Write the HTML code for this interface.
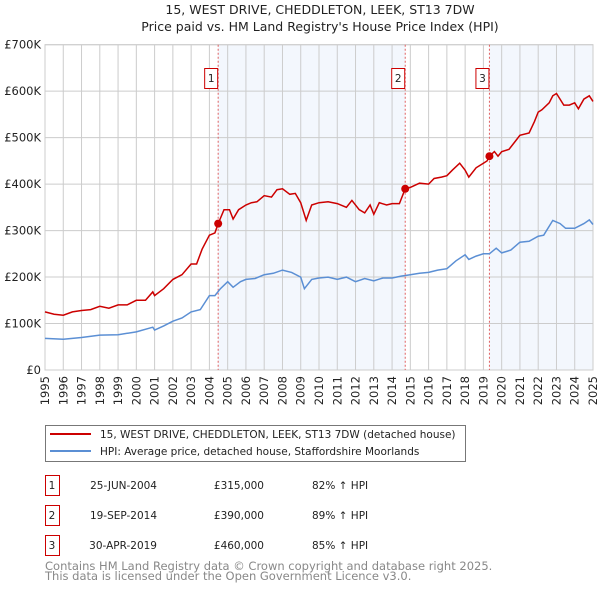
<!DOCTYPE html>
<html><head><meta charset="utf-8"><style>
body{margin:0;background:#fff;font-family:"DejaVu Sans","Liberation Sans",sans-serif;}
svg text{font-family:"DejaVu Sans","Liberation Sans",sans-serif;}
</style></head><body>
<svg id="chart" width="600" height="590" viewBox="0 0 600 590" xmlns="http://www.w3.org/2000/svg">
<text x="320" y="14" text-anchor="middle" font-size="12.5" fill="#222">15, WEST DRIVE, CHEDDLETON, LEEK, ST13 7DW</text>
<text x="320" y="31" text-anchor="middle" font-size="12.5" fill="#222">Price paid vs. HM Land Registry's House Price Index (HPI)</text>
<g id="plot"></g>
<g>
<rect x="45.5" y="425.5" width="420" height="36" fill="#fff" stroke="#777"/>
<line x1="50" y1="434" x2="91" y2="434" stroke="#cc0000" stroke-width="2"/>
<text x="100" y="438" font-size="10.5" fill="#222">15, WEST DRIVE, CHEDDLETON, LEEK, ST13 7DW (detached house)</text>
<line x1="50" y1="451" x2="91" y2="451" stroke="#5b8fd4" stroke-width="2"/>
<text x="100" y="455" font-size="10.5" fill="#222">HPI: Average price, detached house, Staffordshire Moorlands</text>
</g>
<g id="table" font-size="11" fill="#222"></g>
<text x="45" y="570" font-size="11.5" fill="#888">Contains HM Land Registry data © Crown copyright and database right 2025.</text>
<text x="45" y="580" font-size="11.5" fill="#888">This data is licensed under the Open Government Licence v3.0.</text>
</svg>
<script>
const redT=[1995,1995.5,1996,1996.5,1997,1997.5,1998,1998.5,1999,1999.5,2000,2000.5,2000.9,2001,2001.5,2002,2002.5,2003,2003.3,2003.6,2004,2004.3,2004.48,2004.8,2005.1,2005.3,2005.6,2006,2006.3,2006.6,2007,2007.4,2007.7,2008,2008.4,2008.7,2009,2009.3,2009.6,2010,2010.5,2011,2011.5,2011.8,2012.2,2012.5,2012.8,2013,2013.3,2013.7,2014,2014.4,2014.72,2015,2015.5,2016,2016.3,2016.7,2017,2017.3,2017.7,2018,2018.2,2018.6,2019,2019.2,2019.33,2019.6,2019.8,2020,2020.4,2020.8,2021,2021.5,2021.8,2022,2022.2,2022.6,2022.8,2023,2023.4,2023.7,2024,2024.2,2024.5,2024.8,2025];
const redV=[125,120,118,125,128,130,137,133,140,140,150,150,168,160,175,195,205,228,228,260,290,295,315,345,345,325,345,355,360,362,375,372,388,390,378,380,360,322,355,360,362,358,350,365,345,338,355,335,360,355,358,358,390,393,402,400,412,415,418,430,445,430,415,435,445,450,460,470,460,470,475,495,505,510,535,555,560,575,590,595,570,570,575,562,583,590,578];
const blueT=[1995,1996,1997,1998,1999,2000,2000.9,2001,2001.5,2002,2002.5,2003,2003.5,2004,2004.3,2004.6,2005,2005.3,2005.7,2006,2006.5,2007,2007.5,2008,2008.5,2009,2009.2,2009.6,2010,2010.5,2011,2011.5,2012,2012.5,2013,2013.5,2014,2014.5,2015,2015.5,2016,2016.5,2017,2017.5,2018,2018.2,2018.6,2019,2019.33,2019.7,2020,2020.5,2021,2021.5,2022,2022.3,2022.8,2023.2,2023.5,2024,2024.5,2024.8,2025];
const blueV=[68,66,70,75,76,82,92,86,95,105,112,125,130,160,160,175,190,178,190,195,197,205,208,215,210,200,175,195,198,200,195,200,190,197,192,198,198,202,205,208,210,215,218,235,248,238,245,250,250,262,252,258,275,277,288,290,322,315,305,305,315,323,313];
const saleT=[2004.48,2014.72,2019.33];
const saleV=[315,390,460];
const saleLabels=["1","2","3"];
const saleDates=["25-JUN-2004","19-SEP-2014","30-APR-2019"];
const salePrices=["£315,000","£390,000","£460,000"];
const saleHpi=["82% ↑ HPI","89% ↑ HPI","85% ↑ HPI"];
const yTicks=[0,100,200,300,400,500,600,700];
const yTickLabels=["£0","£100K","£200K","£300K","£400K","£500K","£600K","£700K"];
const xYears=[1995,1996,1997,1998,1999,2000,2001,2002,2003,2004,2005,2006,2007,2008,2009,2010,2011,2012,2013,2014,2015,2016,2017,2018,2019,2020,2021,2022,2023,2024,2025];

const NS="http://www.w3.org/2000/svg";
const X0=45,X1=593,Y0=370,Y1=44.7;
const xs=t=>X0+(t-1995)/30*(X1-X0);
const ys=v=>Y0-v/700*(Y0-Y1);
const plot=document.getElementById('plot');
function mk(tag,attrs,parent){const e=document.createElementNS(NS,tag);for(const k in attrs)e.setAttribute(k,attrs[k]);(parent||plot).appendChild(e);return e;}
let s1=mk('rect',{x:xs(saleT[0]),y:Y1,width:xs(saleT[1])-xs(saleT[0]),height:Y0-Y1,fill:'#eef3fc',opacity:0.7});


let s2=mk('rect',{x:xs(saleT[2]),y:Y1,width:X1-xs(saleT[2]),height:Y0-Y1,fill:'#eef3fc',opacity:0.7});


yTicks.forEach((v,i)=>{
 let g=mk('line',{x1:X0,x2:X1,y1:ys(v),y2:ys(v),stroke:'#ccc','stroke-width':1});
 
 
 let t=mk('text',{x:X0-4,y:ys(v)+4,'text-anchor':'end','font-size':11.5,fill:'#222'});
 t.textContent=yTickLabels[i];
 
 
});
xYears.forEach(yr=>{
 let g=mk('line',{x1:xs(yr),x2:xs(yr),y1:Y1,y2:Y0,stroke:'#ccc','stroke-width':1});
 
 
 let t=mk('text',{x:0,y:0,'text-anchor':'end','font-size':11.5,fill:'#222',transform:`translate(${xs(yr)+4},${Y0+6}) rotate(-90)`});
 t.textContent=yr;
 
 
});
let fr=mk('rect',{x:X0,y:Y1,width:X1-X0,height:Y0-Y1,fill:'none',stroke:'#ccc'});


saleT.forEach((t,i)=>{
 let l=mk('line',{x1:xs(t),x2:xs(t),y1:Y1,y2:Y0,stroke:'#e06060','stroke-width':1,'stroke-dasharray':'2,2'});
 
 
 let b=mk('rect',{x:xs(t)-13.5,y:68.5,width:13,height:20,fill:'#fff',stroke:'#cc0000'});
 
 
 let tx=mk('text',{x:xs(t)-7,y:82,'text-anchor':'middle','font-size':10.5,fill:'#222'});
 tx.textContent=saleLabels[i];
 
 
});
const path=(T,V)=>T.map((t,i)=>(i?'L':'M')+xs(t).toFixed(1)+','+ys(V[i]).toFixed(1)).join('');
let bl=mk('path',{d:path(blueT,blueV),fill:'none',stroke:'#5b8fd4','stroke-width':1.5});


let rl=mk('path',{d:path(redT,redV),fill:'none',stroke:'#cc0000','stroke-width':1.5});


saleT.forEach((t,i)=>{
 let c=mk('circle',{cx:xs(t),cy:ys(saleV[i]),r:4,fill:'#cc0000'});
 
 
});
const tbl=document.getElementById('table');
saleLabels.forEach((lb,i)=>{
 const y=475+i*30;
 let b=mk('rect',{x:45.5,y:y+0.5,width:14,height:20,fill:'none',stroke:'#cc0000'},tbl);
 
 
 const vals=[[lb,52,'middle'],[saleDates[i],157,'end'],[salePrices[i],264,'end'],[saleHpi[i],312,'start']];
 vals.forEach(v=>{
  let t=mk('text',{x:v[1],y:y+14,'text-anchor':v[2],'font-size':10.5,fill:'#222'},tbl);
  t.textContent=v[0];
  
  
 });
});
</script>
</body></html>
